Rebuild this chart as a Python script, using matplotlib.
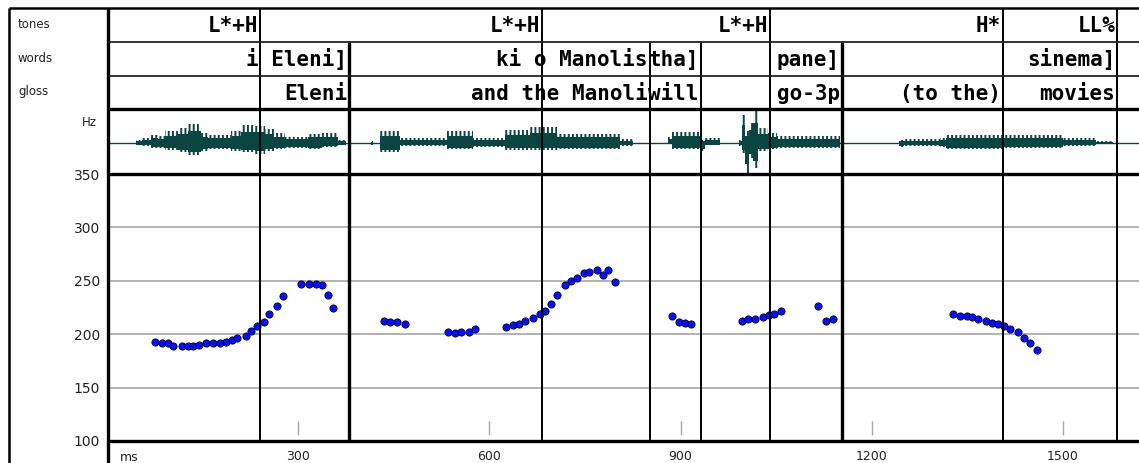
import numpy as np
import matplotlib
matplotlib.use("Agg")
import matplotlib.pyplot as plt

# ---- data ----
# tier labels, right-aligned to the end (ms) of their interval
tone_labels = ["L*+H", "L*+H", "L*+H", "H*", "LL%"]
tone_ends = [240, 683, 1040, 1406, 1585]

word_labels = ["i Eleni]", "ki o Manolis", "tha]", "pane]", "sinema]"]
word_ends = [380, 852, 932, 1153, 1585]
word_thick = [380, 1153]

gloss_labels = ["Eleni", "and the Manoli", "will", "go-3p", "(to the)", "movies"]
gloss_ends = [380, 852, 932, 1153, 1406, 1585]

# waveform envelope: segment start (ms), amplitude up / down (relative units)
wave_t = [0, 46, 56, 70, 80, 91, 112, 128, 148, 159, 195, 211, 232, 248, 263,
          279, 316, 337, 363, 376, 415, 418, 429, 460, 533, 575, 625, 664, 706,
          805, 826, 881, 886, 931, 938, 962, 992, 996, 1001, 1007, 1014, 1021,
          1037, 1051, 1150, 1242, 1250, 1307, 1317, 1406, 1500, 1552, 1578, 1620]
wave_up = [0, 3, 5, 8, 7, 12, 15, 19, 10, 8, 12, 18, 17, 14, 10,
           6, 9, 10, 3, 0, 2, 0, 12, 5, 12, 5, 13, 16, 9,
           4, 0, 6, 11, 3, 5, 0, 3, 28, 12, 20, 32, 15,
           10, 7, 0, 3, 4, 5, 8, 8, 5, 2, 0, 0]
wave_dn = [0, 2, 3, 5, 5, 7, 9, 12, 8, 6, 8, 9, 11, 8, 6,
           5, 6, 4, 2, 0, 2, 0, 9, 3, 6, 4, 7, 7, 6,
           3, 0, 1, 6, 8, 2, 0, 3, 10, 30, 15, 25, 8,
           6, 5, 0, 4, 3, 4, 6, 5, 3, 1, 0, 0]

# F0 track
pitch_ms = [76, 86, 96, 104, 118, 127, 136, 145, 155, 167, 177, 187, 196, 205,
            218, 227, 236, 246, 255, 267, 277, 305, 318, 328, 337, 347, 355,
            435, 445, 456, 468,
            536, 546, 556, 568, 578,
            627, 637, 646, 656, 669, 679, 687, 697, 707, 719, 729, 738, 748,
            757, 769, 778, 787, 797,
            887, 897, 907, 917,
            997, 1006, 1017, 1029, 1039, 1047, 1057,
            1116, 1128, 1139,
            1328, 1338, 1349, 1358, 1367, 1380, 1389, 1398, 1408, 1417, 1429,
            1439, 1449, 1459]
pitch_hz = [193, 191.5, 191.5, 188.5, 188.5, 188.5, 188.5, 190, 191.5, 191.5,
            191.5, 193, 194.7, 196, 198.7, 203.4, 207.8, 211, 218.7, 226.6,
            235.6, 247.2, 247.2, 247.2, 246.2, 237, 224.7,
            212.8, 211.3, 211.3, 209.4,
            202.5, 201, 202.5, 202.5, 205,
            206.6, 208.8, 210, 212.5, 215.6, 218.8, 221.9, 228.1, 236.9, 246.3,
            249.4, 252.5, 256.9, 258.4, 260.3, 255, 260, 248.8,
            217.5, 211.6, 210.9, 209.4,
            212.8, 213.8, 214.4, 215.9, 217.8, 219.1, 221.9,
            226.6, 212.8, 214.4,
            219.1, 217.5, 217.5, 215.9, 214.1, 212.5, 210.9, 209.7, 208.1, 205,
            201.6, 196.3, 191.6, 185.3]

hz_ticks = [100, 150, 200, 250, 300, 350]
ms_ticks = [300, 600, 900, 1200, 1500]

# ---- layout (pixels) ----
W, H = 1139, 463
X0 = 106.75              # pixel of 0 ms
PX_MS = 0.6375           # pixels per ms
T_MAX = (W - X0) / PX_MS
ROWS = [8, 42, 76, 109, 174, 441]   # tones, words, gloss, wave, pitch edges

WAVE_COL = '#0b4541'
MONO = 'DejaVu Sans Mono'
plt.rcParams['hatch.linewidth'] = 1.4
plt.rcParams['hatch.color'] = WAVE_COL


def fig_rect(top, bottom):
    return [X0 / W, 1 - bottom / H, (W - X0) / W, (bottom - top) / H]


fig = plt.figure(figsize=(W / 100, H / 100), dpi=100)
fig.patch.set_facecolor('white')

# waveform: striped outer envelope + solid core
ax_w = fig.add_axes(fig_rect(ROWS[3], ROWS[4]))
ax_w.set_xlim(0, T_MAX)
ax_w.set_ylim(-30.7, 34.3)
ax_w.axhline(0, color=WAVE_COL, lw=1.0)
up = np.array(wave_up, float)
dn = np.array(wave_dn, float)
ax_w.fill_between(wave_t, -dn, up, step='post', facecolor='none',
                  edgecolor=WAVE_COL, hatch='||||', lw=0)
ax_w.fill_between(wave_t, -dn * 0.7, up * 0.65, step='post',
                  color=WAVE_COL, lw=0)
ax_w.set_axis_off()

# pitch track
ax_p = fig.add_axes(fig_rect(ROWS[4], ROWS[5]))
ax_p.set_xlim(0, T_MAX)
ax_p.set_ylim(100, 350)
for s in ax_p.spines.values():
    s.set_visible(False)
for h in hz_ticks[1:-1]:
    ax_p.axhline(h, color='#a6a6a6', lw=1.2, zorder=1)
ax_p.vlines(ms_ticks, 106, 119, color='#a6a6a6', lw=1.0, zorder=1)
ax_p.plot(pitch_ms, pitch_hz, 'o', ls='none', ms=5.2, mfc='#0a10ee',
          mec='#000033', mew=0.6, zorder=5)
ax_p.set_yticks(hz_ticks)
ax_p.set_yticklabels([str(h) for h in hz_ticks], fontsize=10, color='#222222')
ax_p.set_xticks(ms_ticks)
ax_p.set_xticklabels([str(t) for t in ms_ticks], fontsize=9, color='#222222',
                     va='top')
ax_p.tick_params(axis='y', length=0, pad=5)
ax_p.tick_params(axis='x', length=0, pad=6.5)
ax_p.text(21, -0.038, 'ms', transform=ax_p.get_xaxis_transform(),
          fontsize=9, va='top', ha='left', color='#222222')

# tiers + boundaries overlay: x in ms, y in pixels
ax_t = fig.add_axes([0, 0, 1, 1])
ax_t.set_xlim(-X0 / PX_MS, T_MAX)
ax_t.set_ylim(H, 0)
ax_t.set_axis_off()
ax_t.patch.set_alpha(0)

ax_t.vlines(tone_ends, ROWS[0], ROWS[5], color='black', lw=1.4)
thin_w = [t for t in set(word_ends + gloss_ends) if t not in word_thick]
ax_t.vlines(sorted(thin_w), ROWS[1], ROWS[5], color='black', lw=1.4)
ax_t.vlines(word_thick, ROWS[1], ROWS[5], color='black', lw=2.4)


def tier_text(labels, ends, row):
    yc = (ROWS[row] + ROWS[row + 1]) / 2
    for lab, t in zip(labels, ends):
        ax_t.annotate(lab, (t, yc), xytext=(-2, -7.5), textcoords='offset pixels',
                      ha='right', va='baseline', fontsize=15, family=MONO,
                      weight='bold', color='black')


tier_text(tone_labels, tone_ends, 0)
tier_text(word_labels, word_ends, 1)
tier_text(gloss_labels, gloss_ends, 2)

# frame in plain pixels
fr = fig.add_axes([0, 0, 1, 1])
fr.set_xlim(0, W)
fr.set_ylim(H, 0)
fr.set_axis_off()
fr.patch.set_alpha(0)
fr.hlines(8, 9, W, color='black', lw=1.8)
fr.vlines(9, 8, H, color='black', lw=1.8)
fr.vlines(108, 8, H, color='black', lw=2.4)
fr.hlines([42, 76], 108, W, color='#222222', lw=1.3)
fr.hlines([109, 174, 441], 108, W, color='black', lw=2.4)

for lab, y in zip(['tones', 'words', 'gloss'], [24, 58, 91]):
    fr.text(18, y, lab, fontsize=8.5, va='center', ha='left', color='#222222')
fr.text(97, 123, 'Hz', fontsize=8.5, va='center', ha='right', color='#222222')

fig.savefig('out.png', dpi=100)
